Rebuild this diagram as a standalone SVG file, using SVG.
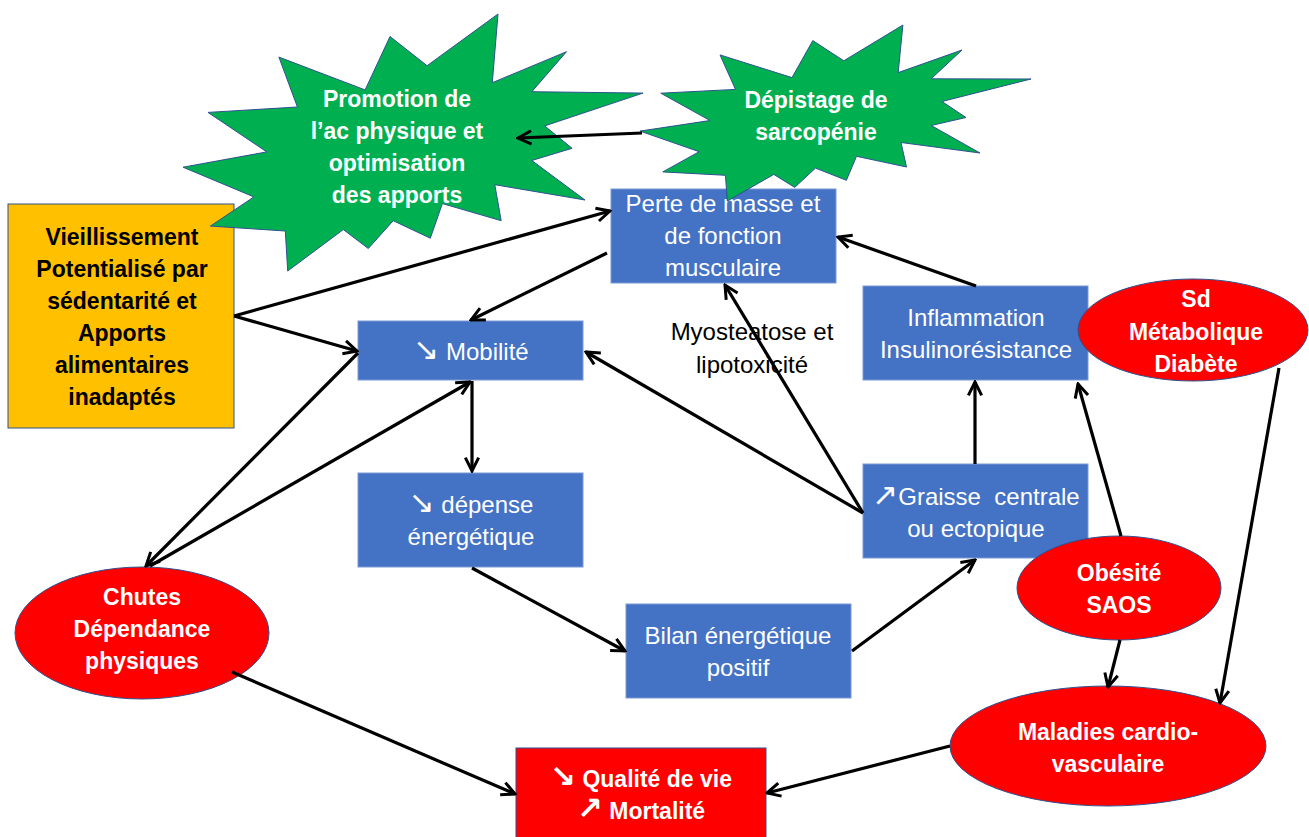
<svg xmlns="http://www.w3.org/2000/svg" width="1309" height="837" viewBox="0 0 1309 837">
<defs>
<style>
.blue{fill:#4472C4;stroke:#7A9AD6;stroke-width:1}
.red{fill:#FF0000;stroke:#2F528F;stroke-width:1}
.star{fill:#00B050;stroke:#2F528F;stroke-width:1}
.orange{fill:#FFC000;stroke:#2F528F;stroke-width:1}
.tw{font-family:"Liberation Sans",Arial,sans-serif;font-size:24px;fill:#FFFFFF;text-anchor:middle}
.tb{font-family:"Liberation Sans",Arial,sans-serif;font-size:23px;font-weight:bold;fill:#FFFFFF;text-anchor:middle}
.tk{font-family:"Liberation Sans",Arial,sans-serif;font-size:23px;font-weight:bold;fill:#000000;text-anchor:middle}
.tn{font-family:"Liberation Sans",Arial,sans-serif;font-size:24px;fill:#000000;text-anchor:middle}
.ar{font-family:"DejaVu Sans",sans-serif;font-size:31px}
.c{fill:none;stroke:#000000;stroke-width:3.2;marker-end:url(#arr)}
</style>
<marker id="arr" viewBox="0 0 10 10" refX="9" refY="5" markerWidth="5.2" markerHeight="5.2" orient="auto" markerUnits="strokeWidth">
<path d="M1,1 L9,5 L1,9" fill="none" stroke="#000000" stroke-width="1.8"/>
</marker>
</defs>
<rect width="1309" height="837" fill="#FFFFFF"/>

<g id="vieillissement">
<rect class="orange" x="8" y="204" width="226" height="224"/>
<text class="tk" x="122" y="245">Vieillissement</text>
<text class="tk" x="122" y="277">Potentialisé par</text>
<text class="tk" x="122" y="309">sédentarité et</text>
<text class="tk" x="122" y="341">Apports</text>
<text class="tk" x="122" y="373">alimentaires</text>
<text class="tk" x="122" y="405">inadaptés</text>
</g>

<g id="perte">
<rect class="blue" x="611" y="189" width="225" height="94"/>
<text class="tw" x="723" y="212">Perte de masse et</text>
<text class="tw" x="723" y="244">de fonction</text>
<text class="tw" x="723" y="276">musculaire</text>
</g>

<g id="mobilite">
<rect class="blue" x="358" y="321" width="225" height="59"/>
<text class="tw" x="471" y="360"><tspan class="ar">↘</tspan> Mobilité</text>
</g>

<g id="depense">
<rect class="blue" x="358" y="473" width="225" height="94"/>
<text class="tw" x="471" y="513"><tspan class="ar">↘</tspan> dépense</text>
<text class="tw" x="471" y="545">énergétique</text>
</g>

<g id="bilan">
<rect class="blue" x="626" y="604" width="225" height="94"/>
<text class="tw" x="738" y="644">Bilan énergétique</text>
<text class="tw" x="738" y="676">positif</text>
</g>

<g id="graisse">
<rect class="blue" x="863" y="464" width="225" height="94"/>
<text class="tw" x="976" y="505" xml:space="preserve"><tspan class="ar">↗</tspan>Graisse  centrale</text>
<text class="tw" x="976" y="537">ou ectopique</text>
</g>

<g id="inflammation">
<rect class="blue" x="863" y="286" width="225" height="94"/>
<text class="tw" x="976" y="326">Inflammation</text>
<text class="tw" x="976" y="358">Insulinorésistance</text>
</g>

<g id="qualite">
<rect class="red" x="516" y="748" width="250" height="95"/>
<text class="tb" x="641" y="787"><tspan class="ar" font-weight="bold">↘</tspan> Qualité de vie</text>
<text class="tb" x="641" y="819"><tspan class="ar" font-weight="bold">↗</tspan> Mortalité</text>
</g>

<g id="sd">
<ellipse class="red" cx="1193" cy="330" rx="115" ry="51"/>
<text class="tb" x="1196" y="307">Sd</text>
<text class="tb" x="1196" y="340">Métabolique</text>
<text class="tb" x="1196" y="372">Diabète</text>
</g>

<g id="obesite">
<ellipse class="red" cx="1119" cy="588" rx="102" ry="52"/>
<text class="tb" x="1119" y="581">Obésité</text>
<text class="tb" x="1119" y="613">SAOS</text>
</g>

<g id="maladies">
<ellipse class="red" cx="1108" cy="746" rx="158" ry="60"/>
<text class="tb" x="1108" y="740">Maladies cardio-</text>
<text class="tb" x="1108" y="772">vasculaire</text>
</g>

<g id="chutes">
<ellipse class="red" cx="142" cy="633" rx="127" ry="66"/>
<text class="tb" x="142" y="605">Chutes</text>
<text class="tb" x="142" y="637">Dépendance</text>
<text class="tb" x="142" y="669">physiques</text>
</g>

<g id="promotion">
<polygon class="star" points="427.1,65.7 498,14 492.3,82.7 566.5,51.7 531.8,91.7 643,93.1 544.7,125.9 572.1,148.3 531.8,160.5 585,200 494.8,184.7 501.2,220.7 442.4,203.6 430.3,238.2 393.2,220.7 368.3,248.5 343.3,229.6 287.7,271 285.3,231 210.4,226.1 253.9,196.9 183,167.2 266.8,151.9 208,112.4 297.4,107 278.9,57.1 365.1,89.9 390,36.5"/>
<text class="tb" x="397" y="107">Promotion de</text>
<text class="tb" x="397" y="139">l’ac physique et</text>
<text class="tb" x="397" y="171">optimisation</text>
<text class="tb" x="397" y="203">des apports</text>
</g>

<g id="depistage">
<polygon class="star" points="843.8,60.8 902.9,25 898.2,72.6 962,50 931.2,78.8 1031,79 942,101.5 966,117.5 931.2,125.5 980,153 901,142.5 906.5,167 856.5,156.3 846.4,180.3 815.5,168.1 794.7,187.4 773.8,174.4 727.4,201 725.4,175.3 662.8,171.9 699.2,151.7 640,131.1 710,120.5 660.8,93.2 735.5,89.4 720,54.9 792,77.6 812.8,40.6"/>
<text class="tb" x="816" y="108">Dépistage de</text>
<text class="tb" x="816" y="140">sarcopénie</text>
</g>

<g id="label-myosteatose">
<text class="tn" x="752" y="340">Myosteatose et</text>
<text class="tn" x="752" y="373">lipotoxicité</text>
</g>

<g id="connectors">
<path class="c" d="M234,316 L610,211"/>
<path class="c" d="M234,316 L357,351"/>
<path class="c" d="M607,253 L471,320"/>
<path class="c" d="M472,381 L472,471"/>
<path class="c" d="M358,353 L146,566"/>
<path class="c" d="M150,566 L470,382"/>
<path class="c" d="M472,568 L625,651"/>
<path class="c" d="M852,651 L975,560"/>
<path class="c" d="M863,513 L586,352"/>
<path class="c" d="M863,513 L725,285"/>
<path class="c" d="M975,464 L975,382"/>
<path class="c" d="M976,286 L838,237"/>
<path class="c" d="M1121,536 L1078,384"/>
<path class="c" d="M1279,368 L1220,703"/>
<path class="c" d="M1120,640 L1108,687"/>
<path class="c" d="M950,746 L767,793"/>
<path class="c" d="M232,672 L515,794"/>
<path class="c" d="M642,133 L518,138"/>
</g>
</svg>
